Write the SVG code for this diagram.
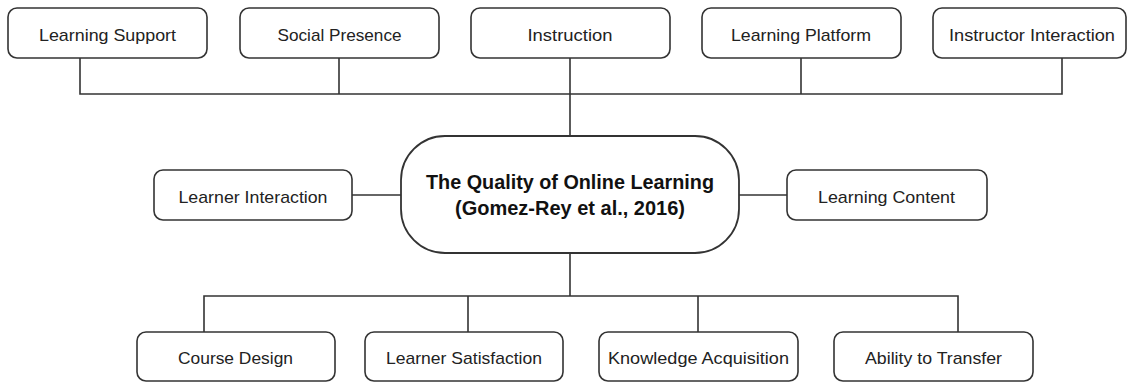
<svg xmlns="http://www.w3.org/2000/svg" width="1128" height="384" viewBox="0 0 1128 384">
  <style>
    .box { fill: #ffffff; stroke: #333333; stroke-width: 1.6; }
    .hub { fill: #ffffff; stroke: #333333; stroke-width: 1.8; }
    .wire { fill: none; stroke: #333333; stroke-width: 1.6; }
    .label { font-family: "Liberation Sans", Arial, sans-serif; font-size: 17px; fill: #222222; text-anchor: middle; }
    .title { font-family: "Liberation Sans", Arial, sans-serif; font-size: 20px; font-weight: bold; fill: #111111; text-anchor: middle; }
  </style>
  <rect width="1128" height="384" fill="#ffffff"/>

  <!-- connectors -->
  <g id="connectors" class="wire">
    <!-- top bus -->
    <path d="M80 58 V94 H1062 V58"/>
    <path d="M339 58 V94"/>
    <path d="M801 58 V94"/>
    <path d="M570 58 V136"/>
    <!-- side links -->
    <path d="M352 195 H401"/>
    <path d="M739 195 H787"/>
    <!-- bottom bus -->
    <path d="M570 253 V296"/>
    <path d="M204 332 V296 H958 V332"/>
    <path d="M468 296 V332"/>
    <path d="M698 296 V332"/>
  </g>

  <!-- top row -->
  <g id="learning-support">
    <rect class="box" x="8" y="8" width="199" height="50" rx="9"/>
    <text class="label" x="107.5" y="41" textLength="137" lengthAdjust="spacingAndGlyphs">Learning Support</text>
  </g>
  <g id="social-presence">
    <rect class="box" x="240" y="8" width="199" height="50" rx="9"/>
    <text class="label" x="339.5" y="41" textLength="124" lengthAdjust="spacingAndGlyphs">Social Presence</text>
  </g>
  <g id="instruction">
    <rect class="box" x="471" y="8" width="199" height="50" rx="9"/>
    <text class="label" x="570" y="41" textLength="85" lengthAdjust="spacingAndGlyphs">Instruction</text>
  </g>
  <g id="learning-platform">
    <rect class="box" x="702" y="8" width="199" height="50" rx="9"/>
    <text class="label" x="801" y="41" textLength="140" lengthAdjust="spacingAndGlyphs">Learning Platform</text>
  </g>
  <g id="instructor-interaction">
    <rect class="box" x="933" y="8" width="193" height="50" rx="9"/>
    <text class="label" x="1032" y="41" textLength="166" lengthAdjust="spacingAndGlyphs">Instructor Interaction</text>
  </g>

  <!-- middle row -->
  <g id="learner-interaction">
    <rect class="box" x="154" y="170" width="198" height="50" rx="9"/>
    <text class="label" x="253" y="203" textLength="149" lengthAdjust="spacingAndGlyphs">Learner Interaction</text>
  </g>
  <g id="quality-online-learning">
    <rect class="hub" x="401" y="136" width="338" height="117" rx="44"/>
    <text class="title" x="570" y="189" textLength="288" lengthAdjust="spacingAndGlyphs">The Quality of Online Learning</text>
    <text class="title" x="570" y="215" textLength="230" lengthAdjust="spacingAndGlyphs">(Gomez-Rey et al., 2016)</text>
  </g>
  <g id="learning-content">
    <rect class="box" x="787" y="170" width="200" height="50" rx="9"/>
    <text class="label" x="886.5" y="203" textLength="137" lengthAdjust="spacingAndGlyphs">Learning Content</text>
  </g>

  <!-- bottom row -->
  <g id="course-design">
    <rect class="box" x="137" y="332" width="198" height="49" rx="9"/>
    <text class="label" x="235.5" y="364" textLength="115" lengthAdjust="spacingAndGlyphs">Course Design</text>
  </g>
  <g id="learner-satisfaction">
    <rect class="box" x="365" y="332" width="198" height="49" rx="9"/>
    <text class="label" x="464" y="364" textLength="156" lengthAdjust="spacingAndGlyphs">Learner Satisfaction</text>
  </g>
  <g id="knowledge-acquisition">
    <rect class="box" x="599" y="332" width="199" height="49" rx="9"/>
    <text class="label" x="698.5" y="364" textLength="181" lengthAdjust="spacingAndGlyphs">Knowledge Acquisition</text>
  </g>
  <g id="ability-to-transfer">
    <rect class="box" x="834" y="332" width="199" height="49" rx="9"/>
    <text class="label" x="933.5" y="364" textLength="137" lengthAdjust="spacingAndGlyphs">Ability to Transfer</text>
  </g>
</svg>
